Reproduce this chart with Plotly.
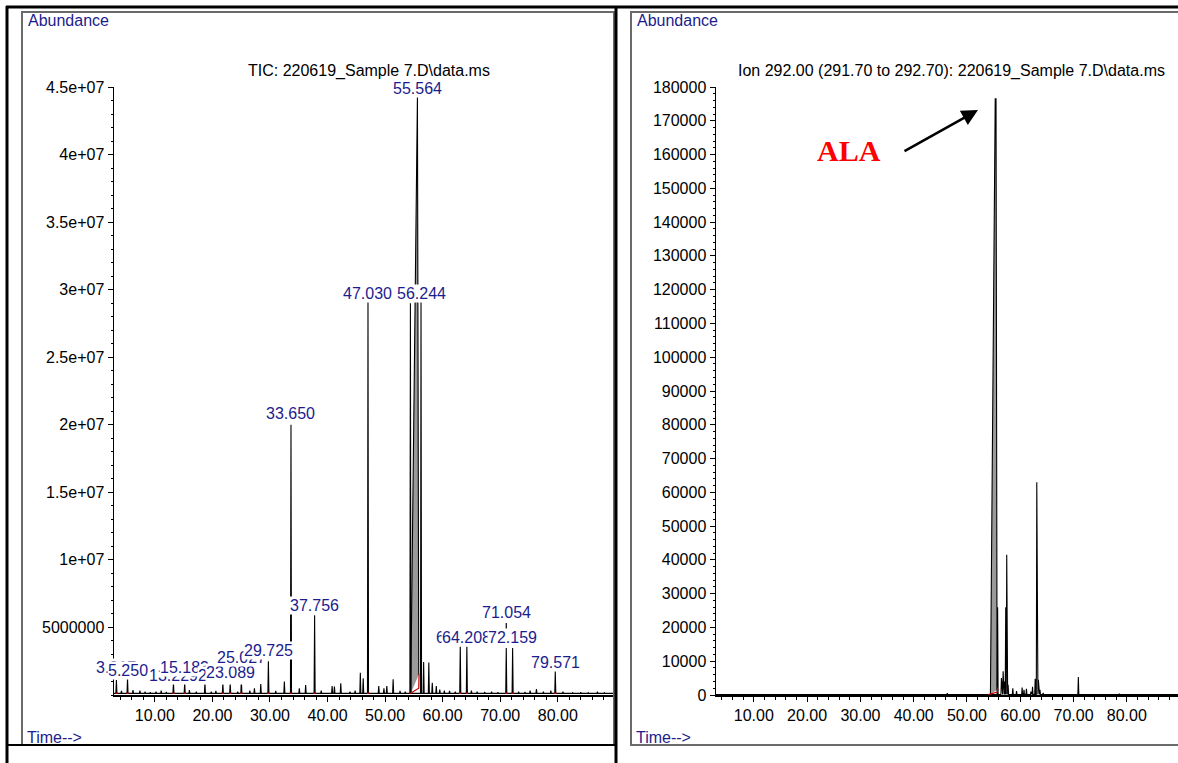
import plotly.graph_objects as go

W, H = 1178, 763


def px(x):
    return x / W


def py(y):
    return 1 - y / H


FONT = "Liberation Sans, Arial, sans-serif"
NAVY = "#1c1c8e"

# ---------------- data : TIC (left) ----------------
tic_label_times = [3.317, 5.250, 13.229, 15.183, 21.814, 23.089, 25.027, 29.725, 33.650,
                   37.756, 47.030, 55.564, 56.244, 63.062, 64.208, 71.054, 72.159, 79.571]
tic_label_text = ["3.317", "5.250", "13.229", "15.183", "21.814", "23.089", "25.027", "29.725",
                  "33.650", "37.756", "47.030", "55.564", "56.244", "63.062", "64.208", "71.054",
                  "72.159", "79.571"]
tic_label_heights = [1.1e6, 1.2e6, 8.9e5, 9.1e5, 8.6e5, 8.6e5, 1.1e6, 2.5e6, 2.0e7,
                     5.9e6, 2.91e7, 4.43e7, 2.91e7, 3.7e6, 3.7e6, 3.48e6, 3.48e6, 1.78e6]
tic_label_y = [2.07e6, 1.85e6, 1.41e6, 2.07e6, 1.41e6, 1.63e6, 2.74e6, 3.26e6, 2.087e7,
               6.66e6, 2.975e7, 4.49e7, 2.975e7, 4.29e6, 4.29e6, 6.07e6, 4.22e6, 2.44e6]

tic_small_t = [4.2, 6.2, 7.4, 8.3, 9.2, 10.2, 11.1, 12.0, 16.0, 17.2, 18.7, 19.8, 20.6,
               24.4, 26.5, 27.3, 28.4, 31.0, 32.5, 35.1, 36.2, 38.9, 40.8, 41.2, 42.3,
               43.9, 44.8, 45.7, 46.2, 48.9, 49.8, 50.3, 51.4, 52.6, 53.5, 54.4, 56.7, 57.6,
               58.2, 58.9, 59.5, 60.3, 61.2, 62.2, 65.0, 66.0, 67.3, 68.5, 69.6, 73.2,
               74.3, 75.2, 76.3, 77.5, 78.8, 80.9, 82.6, 84.0, 85.3, 86.9, 88.1]
tic_small_h = [3.0e5, 3.7e5, 3.2e5, 2.5e5, 2.0e5, 2.5e5, 3.2e5, 2.2e5, 3.7e5, 2.5e5, 9.1e5,
               2.5e5, 3.0e5, 2.5e5, 3.2e5, 4.9e5, 8.1e5, 3.0e5, 9.9e5, 4.9e5, 7.4e5, 3.2e5,
               6.7e5, 6.2e5, 8.6e5, 2.5e5, 3.2e5, 1.65e6, 1.23e6, 6.7e5, 4.9e5, 6.7e5,
               1.16e6, 3.0e5, 2.5e5, 2.9e7, 2.45e6, 2.4e6, 9.0e5, 6.7e5, 4.0e5, 3.2e5, 3.0e5,
               2.5e5, 3.2e5, 2.5e5, 2.2e5, 2.5e5, 2.0e5, 2.5e5, 2.2e5, 3.2e5, 4.3e5, 2.5e5,
               3.2e5, 2.5e5, 1.7e5, 2.0e5, 1.7e5, 2.5e5, 1.7e5]

tic_main_t = [54.45, 55.50, 55.62, 55.85]
tic_main_h = [1.2e5, 4.43e7, 4.43e7, 1.5e6]

tic_red_t = [54.3, 55.85, 55.9]
tic_red_h = [1.0e5, 5.0e5, 1.55e6]

tic_yticks = [5e6, 1e7, 1.5e7, 2e7, 2.5e7, 3e7, 3.5e7, 4e7, 4.5e7]
tic_yticktext = ["5000000", "1e+07", "1.5e+07", "2e+07", "2.5e+07", "3e+07", "3.5e+07",
                 "4e+07", "4.5e+07"]

time_ticks = [10, 20, 30, 40, 50, 60, 70, 80]
time_ticktext = ["10.00", "20.00", "30.00", "40.00", "50.00", "60.00", "70.00", "80.00"]

# ---------------- data : Ion 292 (right) ----------------
ion_label_time = 55.391
ion_label_text = "55.391"
ion_label_y = 180600

ion_main_t = [54.4, 55.30, 55.45, 55.65]
ion_main_h = [200, 176500, 176500, 1500]

ion_small_t = [46.3, 55.75, 56.46, 56.78, 57.08, 57.27, 57.46, 57.72, 58.6, 59.3, 60.35,
               60.7, 61.16, 62.0, 62.3, 62.8, 63.1, 63.4, 63.7, 64.3, 70.9, 78.6]
ion_small_h = [500, 26000, 5000, 7000, 4000, 26000, 41500, 3000, 2000, 1200, 2200,
               1500, 1800, 1000, 2400, 4800, 63000, 4500, 1500, 600, 5300, 400]

ion_red_t = [54.0, 55.7, 55.75]
ion_red_h = [100, 900, 2200]

ion_yticks = list(range(0, 180001, 10000))
ion_yticktext = [str(v) for v in ion_yticks]

T_START, T_END = 2.9, 89.6


def spikes(times, heights, base, width):
    pts = sorted(zip(times, heights))
    xs, ys = [T_START], [base]
    for t, h in pts:
        xs += [t - width, t, t + width]
        ys += [base, h, base]
    xs.append(T_END)
    ys.append(base)
    return xs, ys


fig = go.Figure()

# left chromatogram
spike_t = [t for t, s in zip(tic_label_times, tic_label_text) if s != "55.564"] + tic_small_t
spike_h = [h for h, s in zip(tic_label_heights, tic_label_text) if s != "55.564"] + tic_small_h
lx, ly = spikes(spike_t, spike_h, 1.2e5, 0.09)
fig.add_trace(go.Scatter(x=tic_main_t, y=tic_main_h, mode="lines", fill="toself",
                         fillcolor="#9a9a9a", line=dict(color="black", width=1.1),
                         xaxis="x", yaxis="y", hoverinfo="skip", showlegend=False))
fig.add_trace(go.Scatter(x=lx, y=ly, mode="lines", line=dict(color="black", width=1.1),
                         xaxis="x", yaxis="y", hoverinfo="skip", showlegend=False))
fig.add_trace(go.Scatter(x=tic_red_t, y=tic_red_h, mode="lines",
                         line=dict(color="#c00000", width=1.2),
                         xaxis="x", yaxis="y", hoverinfo="skip", showlegend=False))
# red integration marks at labelled peaks
rx, ry = [], []
for t in tic_label_times:
    if 54 < t < 57:
        continue
    rx += [t - 0.2, t + 0.2, None]
    ry += [1.3e5, 1.3e5, None]
fig.add_trace(go.Scatter(x=rx, y=ry, mode="lines", line=dict(color="#c00000", width=1.5),
                         xaxis="x", yaxis="y", hoverinfo="skip", showlegend=False))

# right chromatogram
rx2, ry2 = spikes(ion_small_t, ion_small_h, 150, 0.09)
fig.add_trace(go.Scatter(x=ion_main_t, y=ion_main_h, mode="lines", fill="toself",
                         fillcolor="#9a9a9a", line=dict(color="black", width=1.1),
                         xaxis="x2", yaxis="y2", hoverinfo="skip", showlegend=False))
fig.add_trace(go.Scatter(x=rx2, y=ry2, mode="lines", line=dict(color="black", width=1.1),
                         xaxis="x2", yaxis="y2", hoverinfo="skip", showlegend=False))
fig.add_trace(go.Scatter(x=ion_red_t, y=ion_red_h, mode="lines",
                         line=dict(color="#c00000", width=1.2),
                         xaxis="x2", yaxis="y2", hoverinfo="skip", showlegend=False))

axis_common = dict(showline=True, linecolor="black", linewidth=1.5, ticks="outside",
                   ticklen=5, tickwidth=1, tickcolor="black", showgrid=False, zeroline=False,
                   automargin=False,
                   tickfont=dict(family=FONT, size=16, color="black"), fixedrange=True)

ydom = [py(695), py(87)]
fig.update_layout(
    template="none",
    width=W, height=H, margin=dict(l=0, r=0, t=0, b=0, pad=0),
    paper_bgcolor="white", plot_bgcolor="white", showlegend=False,
    xaxis=dict(domain=[px(114), px(613)], range=[T_START, T_END], anchor="y",
               tickmode="array", tickvals=time_ticks, ticktext=time_ticktext,
               minor=dict(ticks="outside", ticklen=3, dtick=2, tick0=0, tickcolor="black"),
               **axis_common),
    yaxis=dict(domain=ydom, range=[0, 4.5e7], anchor="x",
               tickmode="array", tickvals=tic_yticks, ticktext=tic_yticktext,
               minor=dict(ticks="outside", ticklen=2, dtick=1e6, tick0=0, tickcolor="black"),
               **axis_common),
    xaxis2=dict(domain=[px(716), 1.0], range=[T_START, T_END], anchor="y2",
                tickmode="array", tickvals=time_ticks, ticktext=time_ticktext,
                minor=dict(ticks="outside", ticklen=3, dtick=2, tick0=0, tickcolor="black"),
                **axis_common),
    yaxis2=dict(domain=ydom, range=[0, 180000], anchor="x2",
                tickmode="array", tickvals=ion_yticks, ticktext=ion_yticktext,
                minor=dict(ticks="outside", ticklen=2, dtick=2000, tick0=0, tickcolor="black"),
                **axis_common),
)

ann = []
for t, s, yv in zip(tic_label_times, tic_label_text, tic_label_y):
    ann.append(dict(x=t, y=yv, xref="x", yref="y", text=s, showarrow=False,
                    xanchor="center", yanchor="middle", bgcolor="white", borderpad=0,
                    font=dict(family=FONT, size=16, color=NAVY)))
ann.append(dict(x=ion_label_time, y=ion_label_y, xref="x2", yref="y2", text=ion_label_text,
                showarrow=False, xanchor="center", yanchor="middle", bgcolor="white",
                borderpad=0, font=dict(family=FONT, size=16, color=NAVY)))


def ptext(x, y, text, color="black", anchor="center", size=16, family=FONT):
    return dict(x=px(x), y=py(y), xref="paper", yref="paper", showarrow=False,
                xanchor=anchor, yanchor="middle", text=text,
                font=dict(family=family, size=size, color=color))


ann += [
    ptext(369, 71, "TIC: 220619_Sample 7.D\\data.ms"),
    ptext(951, 71, "Ion 292.00 (291.70 to 292.70): 220619_Sample 7.D\\data.ms"),
    ptext(26, 20, "Abundance", NAVY, "left"),
    ptext(635, 20, "Abundance", NAVY, "left"),
    ptext(25, 737, "Time-->", NAVY, "left"),
    ptext(634, 737, "Time-->", NAVY, "left"),
    ptext(849, 150, "<b>ALA</b>", "#ff0000", "center", 30,
          "Liberation Serif, Times New Roman, serif"),
    dict(x=px(978), y=py(110), xref="paper", yref="paper", showarrow=True, text="",
         ax=-75, ay=42, arrowhead=2, arrowsize=1.3, arrowwidth=2.5, arrowcolor="black"),
]
fig.update_layout(annotations=ann)

shapes = [
    # inner grey frames
    dict(type="rect", xref="paper", yref="paper", x0=px(22), x1=px(614), y0=py(745), y1=py(12),
         line=dict(color="#6a6a6a", width=2), layer="below"),
    dict(type="rect", xref="paper", yref="paper", x0=px(631), x1=px(1190), y0=py(745), y1=py(12),
         line=dict(color="#6a6a6a", width=2), layer="below"),
    # outer black table lines
    dict(type="line", xref="paper", yref="paper", x0=px(6), x1=1.0, y0=py(7), y1=py(7),
         line=dict(color="black", width=3)),
    dict(type="line", xref="paper", yref="paper", x0=px(7), x1=px(7), y0=py(6), y1=0,
         line=dict(color="black", width=3)),
    dict(type="line", xref="paper", yref="paper", x0=px(616), x1=px(616), y0=py(6), y1=0,
         line=dict(color="black", width=3)),
    dict(type="line", xref="paper", yref="paper", x0=px(7), x1=px(616), y0=py(745), y1=py(745),
         line=dict(color="black", width=2)),
    # leader line for displaced label 71.054
    dict(type="line", xref="x", yref="y", x0=71.054, x1=71.054, y0=4.66e6, y1=5.33e6,
         line=dict(color="black", width=1.2)),
]
fig.update_layout(shapes=shapes)

fig.write_html("out.html", config={"displayModeBar": False, "staticPlot": True},
               post_script="document.body.style.margin='0';document.body.style.overflow='hidden';")
